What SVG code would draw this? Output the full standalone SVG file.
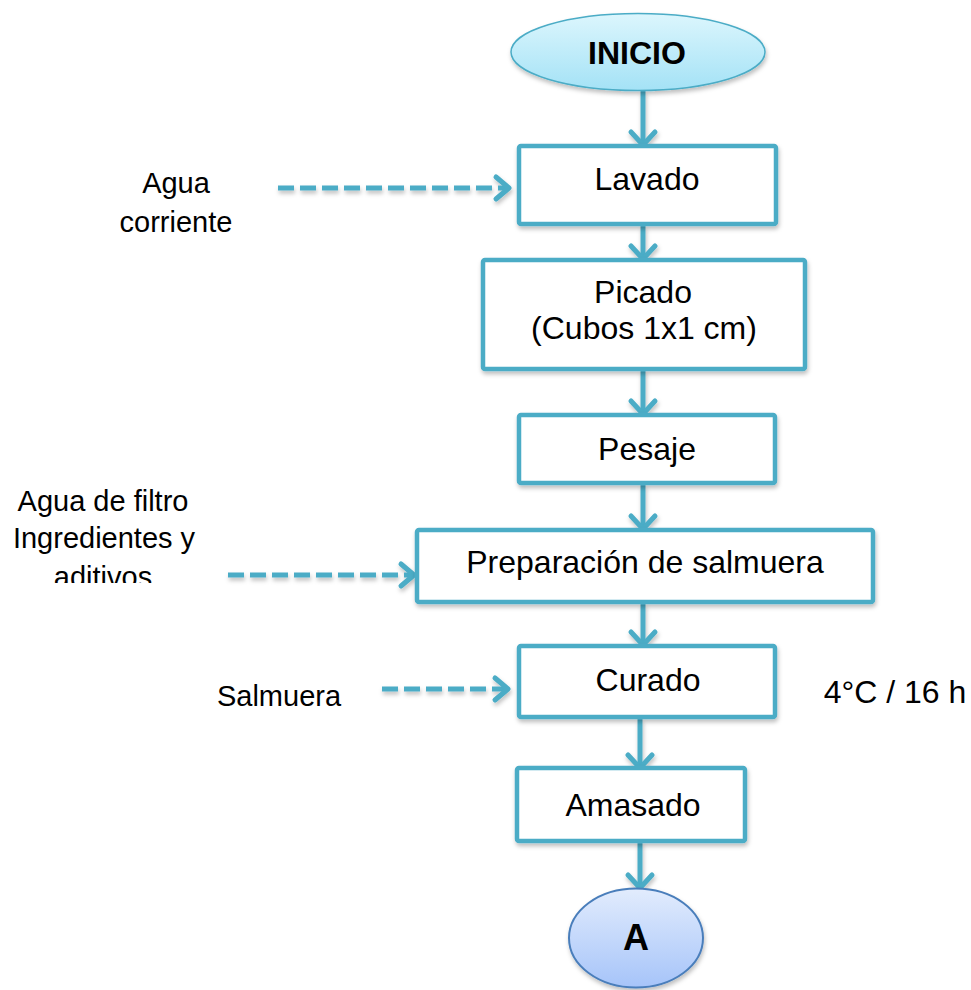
<svg xmlns="http://www.w3.org/2000/svg" width="971" height="990" viewBox="0 0 971 990">
<defs>
<linearGradient id="gInicio" x1="0" y1="0" x2="0" y2="1">
<stop offset="0" stop-color="#dcf6fd"/><stop offset="1" stop-color="#a4e2f6"/>
</linearGradient>
<linearGradient id="gA" x1="0" y1="0" x2="0" y2="1">
<stop offset="0" stop-color="#e2ecfd"/><stop offset="1" stop-color="#a6c4f9"/>
</linearGradient>
<filter id="sh" x="-10%" y="-10%" width="130%" height="140%">
<feDropShadow dx="1" dy="3" stdDeviation="2" flood-color="#000" flood-opacity="0.25"/>
</filter>
<clipPath id="clipL"><rect x="0" y="470" width="230" height="113"/></clipPath>
</defs>
<style>
.box{fill:#fff;stroke:#4bacc6;stroke-width:4.5}
.t{font-family:"Liberation Sans",Arial,sans-serif;font-size:32px;fill:#000;text-anchor:middle}
.lbl{font-family:"Liberation Sans",Arial,sans-serif;font-size:29px;fill:#000;text-anchor:middle}
.b{font-weight:bold}
.conn{fill:none;stroke:#4bacc6;stroke-width:5}
.head{fill:none;stroke:#4bacc6;stroke-width:5;stroke-linecap:round;stroke-linejoin:round}
.dash{stroke-dasharray:16 6}
.sh{filter:url(#sh)}
</style>
<g id="connectors" class="sh">
<line class="conn" x1="643" y1="91" x2="643" y2="144"/>
<path class="head" d="M631,132 L643,145 L655,132"/>
<line class="conn" x1="643" y1="226" x2="643" y2="257"/>
<path class="head" d="M631,246 L643,259 L655,246"/>
<line class="conn" x1="643" y1="370" x2="643" y2="413"/>
<path class="head" d="M631,401 L643,414 L655,401"/>
<line class="conn" x1="643" y1="485" x2="643" y2="528"/>
<path class="head" d="M631,516 L643,529 L655,516"/>
<line class="conn" x1="643" y1="604" x2="643" y2="644"/>
<path class="head" d="M631,632 L643,645 L655,632"/>
<line class="conn" x1="640" y1="719" x2="640" y2="766"/>
<path class="head" d="M628,755 L640,768 L652,755"/>
<line class="conn" x1="640" y1="842" x2="640" y2="886"/>
<path class="head" d="M628,875 L640,888 L652,875"/>
<line class="conn dash" x1="278" y1="188" x2="506" y2="188"/>
<path class="head" d="M496,177 L509,188 L496,199"/>
<line class="conn dash" x1="228" y1="575" x2="411" y2="575"/>
<path class="head" d="M401,564 L414,575 L401,586"/>
<line class="conn dash" x1="382" y1="689" x2="505" y2="689"/>
<path class="head" d="M495,678 L508,689 L495,700"/>
</g>
<g id="inicio">
<ellipse cx="638" cy="52" rx="127" ry="38.5" fill="url(#gInicio)" stroke="#4bacc6" stroke-width="1.5" class="sh"/>
<text class="t b" x="637" y="64">INICIO</text>
</g>
<g id="lavado">
<rect class="box sh" x="519" y="146" width="257" height="78" rx="2"/>
<text class="t" x="647" y="190">Lavado</text>
</g>
<g id="picado">
<rect class="box sh" x="483" y="260" width="322" height="109" rx="2"/>
<text class="t" x="643" y="303">Picado</text>
<text class="t" x="644" y="339">(Cubos 1x1 cm)</text>
</g>
<g id="pesaje">
<rect class="box sh" x="519" y="415" width="256" height="68" rx="2"/>
<text class="t" x="647" y="460">Pesaje</text>
</g>
<g id="preparacion">
<rect class="box sh" x="417" y="530" width="456" height="72" rx="2"/>
<text class="t" x="645" y="573">Preparación de salmuera</text>
</g>
<g id="curado">
<rect class="box sh" x="519" y="646" width="256" height="71" rx="2"/>
<text class="t" x="648" y="691">Curado</text>
</g>
<g id="amasado">
<rect class="box sh" x="517" y="768" width="228" height="73" rx="2"/>
<text class="t" x="633" y="816">Amasado</text>
</g>
<g id="a">
<ellipse cx="636" cy="938" rx="67" ry="49.5" fill="url(#gA)" stroke="#4a7ebb" stroke-width="2" class="sh"/>
<text class="t b" x="636" y="950" style="font-size:36px">A</text>
</g>
<g id="labels">
<text class="lbl" x="176" y="193">Agua</text>
<text class="lbl" x="176" y="232">corriente</text>
<g clip-path="url(#clipL)">
<text class="lbl" x="103" y="511">Agua de filtro</text>
<text class="lbl" x="104" y="548">Ingredientes y</text>
<text class="lbl" x="103" y="587">aditivos</text>
</g>
<text class="lbl" x="279" y="706">Salmuera</text>
<text class="t" x="895" y="703">4°C / 16 h</text>
</g>
</svg>
